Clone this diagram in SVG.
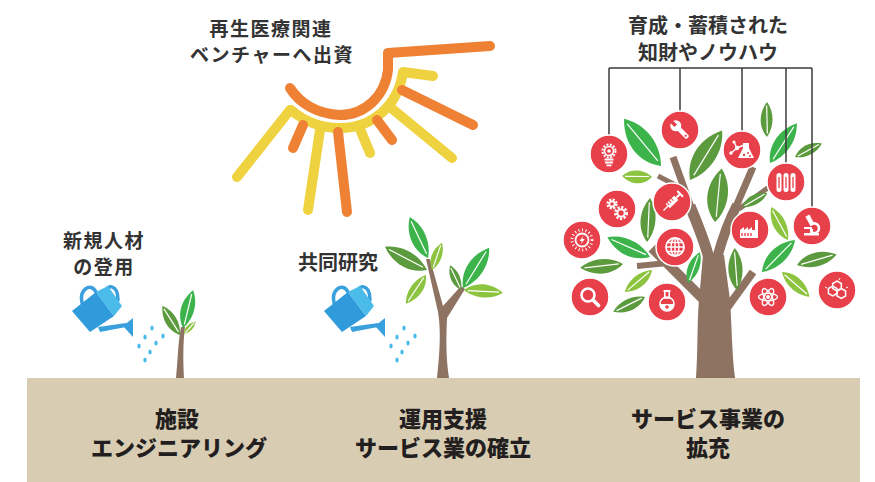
<svg xmlns="http://www.w3.org/2000/svg" xmlns:xlink="http://www.w3.org/1999/xlink" width="875" height="482" viewBox="0 0 875 482">
  <defs>
    <style>
      .lbl { font-family: "Noto Sans CJK JP", "Noto Sans", sans-serif; font-weight: 700; font-size: 20px; fill: #333333; text-anchor: middle; }
      .lbs { font-family: "Noto Sans CJK JP", "Noto Sans", sans-serif; font-weight: 700; font-size: 19px; letter-spacing: 1.5px; fill: #333333; text-anchor: middle; }
      .gnd { font-family: "Noto Sans CJK JP", "Noto Sans", sans-serif; font-weight: 900; font-size: 22px; fill: #231f20; text-anchor: middle; }
      .ray { fill: none; stroke-width: 10; stroke-linecap: round; stroke-linejoin: round; }
      .or { stroke: #ef8134; }
      .ye { stroke: #efd23f; }
      .bark { fill: none; stroke: #8e7363; stroke-linecap: butt; }
      .dot { fill: #e8404a; stroke: #ffffff; stroke-width: 1.5; }
      .ic { fill: #ffffff; }
      .ico { fill: none; stroke: #ffffff; }
      .hang { fill: none; stroke: #3a3a3a; stroke-width: 1.5; }
      .drop { fill: #4bbbea; }
      .dk { fill: #5b9a3d; }
      .br { fill: #3cb44b; }
      .lt { fill: #8cc43f; }
    </style>
    <!-- unit leaf: base at origin, tip at (100,0) -->
    <g id="leaf">
      <path d="M0,0 C25,-22 65,-26 100,0 C70,22 28,20 0,0 Z"/>
      <path d="M10,1 L90,-1" fill="none" stroke="#ffffff" stroke-width="1.2" vector-effect="non-scaling-stroke"/>
    </g>
    <!-- watering can with falling drops -->
    <g id="can">
      <path d="M82,303 C79,289 91,282 96,292" fill="none" stroke="#3aa0dd" stroke-width="3.5" stroke-linecap="round"/>
      <path d="M105,294 C106,283 118,284 118,300" fill="none" stroke="#3aa0dd" stroke-width="3.5" stroke-linecap="round"/>
      <polygon points="98,327 126,323 126,327 100,332" fill="#3aa0dd"/>
      <polygon points="123,326 133,318 133,337" fill="#3aa0dd"/>
      <polygon points="72,311 96,292 114,316 90,332" fill="#2f9bda"/>
      <polygon points="96,292 108,286 122,306 114,316" fill="#4bbbea"/>
      <g class="drop">
        <ellipse cx="152" cy="328" rx="1.7" ry="2.5"/>
        <ellipse cx="163" cy="336" rx="1.7" ry="2.5"/>
        <ellipse cx="145" cy="337" rx="1.7" ry="2.5"/>
        <ellipse cx="156" cy="343" rx="1.7" ry="2.5"/>
        <ellipse cx="139" cy="346" rx="1.7" ry="2.5"/>
        <ellipse cx="150" cy="352" rx="1.7" ry="2.5"/>
        <ellipse cx="145" cy="360" rx="1.7" ry="2.5"/>
      </g>
    </g>
  </defs>

  <rect width="875" height="482" fill="#ffffff"/>

  <!-- ground band -->
  <g id="ground">
    <rect x="27" y="378" width="833" height="104" fill="#d8ccb2"/>
  </g>

  <!-- sun -->
  <g id="sun">
    <path class="ray or" d="M290,88 C300,104 318,114 340,115 C365,115 385,96 388,70 L388,53 L490,46"/>
    <path class="ray ye" d="M291,110 C305,122 322,128 340,128 C372,128 398,106 403,72 L433,76"/>
    <path class="ray ye" d="M290,110 L237,177"/>
    <path class="ray ye" d="M320,130 L308,210"/>
    <path class="ray ye" d="M360,129 L370,153"/>
    <path class="ray ye" d="M390,107 L452,158"/>
    <path class="ray or" d="M303,125 L293,148"/>
    <path class="ray or" d="M338,132 L347,212"/>
    <path class="ray or" d="M377,120 L392,140"/>
    <path class="ray or" d="M402,90 L473,125"/>
  </g>

  <!-- labels -->
  <g id="label-venture">
    <text class="lbs"><tspan x="271" y="36">再生医療関連</tspan><tspan x="272" y="62">ベンチャーへ出資</tspan></text>
  </g>
  <g id="label-hiring">
    <text class="lbs"><tspan x="104" y="248">新規人材</tspan><tspan x="104" y="274">の登用</tspan></text>
  </g>
  <g id="label-research">
    <text class="lbl" x="338" y="270">共同研究</text>
  </g>
  <g id="label-knowhow">
    <text class="lbl"><tspan x="708" y="33">育成・蓄積された</tspan><tspan x="708" y="60">知財やノウハウ</tspan></text>
  </g>

  <!-- watering cans -->
  <g id="can-1"><use xlink:href="#can"/></g>
  <g id="can-2"><use xlink:href="#can" transform="translate(252,0)"/></g>

  <!-- sprout -->
  <g id="sprout">
    <path d="M176,378 C178,358 178,342 181,327 L185,327 C183,342 183,360 184,378 Z" fill="#8e7363"/>
    <use xlink:href="#leaf" class="dk" transform="translate(180,335) rotate(-121) scale(0.34)"/>
    <use xlink:href="#leaf" class="br" transform="translate(183,328) rotate(-75) scale(0.39)"/>
    <use xlink:href="#leaf" class="lt" transform="translate(184,334) rotate(-47) scale(0.17)"/>
  </g>

  <!-- sapling -->
  <g id="sapling">
    <path d="M437,378 C440,350 441,330 438,312 L426,259 L430,259 L443,306 L461,286 L465,289 L447,318 C446,340 446,358 449,378 Z" fill="#8e7363"/>
    <use xlink:href="#leaf" class="dk" transform="translate(427,270) rotate(-151) scale(0.48)"/>
    <use xlink:href="#leaf" class="br" transform="translate(428,258) rotate(-114) scale(0.45)"/>
    <use xlink:href="#leaf" class="lt" transform="translate(432,270) rotate(-70) scale(0.29)"/>
    <use xlink:href="#leaf" class="lt" transform="translate(426,275) rotate(125) scale(0.35)"/>
    <use xlink:href="#leaf" class="dk" transform="translate(461,290) rotate(-114) scale(0.27)"/>
    <use xlink:href="#leaf" class="br" transform="translate(463,288) rotate(-57) scale(0.48)"/>
    <use xlink:href="#leaf" class="lt" transform="translate(464,290) rotate(4) scale(0.39)"/>
  </g>

  <!-- tree -->
  <g id="tree">
    <path d="M696,378 C698,350 697,322 699,300 L703,255 L724,255 L730,300 C732,330 732,355 735,378 Z" fill="#8e7363"/>
    <path class="bark" stroke-width="10" d="M706,302 L652,248"/>
    <path class="bark" stroke-width="6" d="M668,263 L637,266"/>
    <path class="bark" stroke-width="8" d="M727,308 L753,272"/>
    <path class="bark" stroke-width="11" d="M709,258 C704,240 698,225 690,206"/>
    <path class="bark" stroke-width="7" d="M692,210 L673,157"/>
    <path class="bark" stroke-width="5" d="M687,191 L658,176"/>
    <path class="bark" stroke-width="10" d="M717,258 C722,240 728,222 737,205"/>
    <path class="bark" stroke-width="7" d="M735,209 L753,167"/>
    <path class="bark" stroke-width="5" d="M739,209 L780,179"/>

    <g id="tree-leaves">
      <use xlink:href="#leaf" class="br" transform="translate(661,166) rotate(-128) scale(0.6,0.66)"/>
      <use xlink:href="#leaf" class="lt" transform="translate(652,177) rotate(182) scale(0.30,0.38)"/>
      <use xlink:href="#leaf" class="dk" transform="translate(690,180) rotate(-57) scale(0.59,0.62)"/>
      <use xlink:href="#leaf" class="dk" transform="translate(767,137) rotate(-90) scale(0.35)"/>
      <use xlink:href="#leaf" class="br" transform="translate(770,163) rotate(-56) scale(0.48)"/>
      <use xlink:href="#leaf" class="dk" transform="translate(795,157) rotate(-27) scale(0.30)"/>
      <use xlink:href="#leaf" class="dk" transform="translate(715,222) rotate(-83) scale(0.54,0.6)"/>
      <use xlink:href="#leaf" class="dk" transform="translate(742,207) rotate(-29) scale(0.29)"/>
      <use xlink:href="#leaf" class="dk" transform="translate(647,242) rotate(-86) scale(0.44)"/>
      <use xlink:href="#leaf" class="br" transform="translate(650,257) rotate(-155) scale(0.47)"/>
      <use xlink:href="#leaf" class="dk" transform="translate(623,264) rotate(175) scale(0.43)"/>
      <use xlink:href="#leaf" class="lt" transform="translate(652,270) rotate(141) scale(0.35)"/>
      <use xlink:href="#leaf" class="dk" transform="translate(645,297) rotate(155) scale(0.35)"/>
      <use xlink:href="#leaf" class="br" transform="translate(688,283) rotate(-69) scale(0.33)"/>
      <use xlink:href="#leaf" class="dk" transform="translate(737,290) rotate(-93) scale(0.42)"/>
      <use xlink:href="#leaf" class="lt" transform="translate(788,240) rotate(-117) scale(0.37)"/>
      <use xlink:href="#leaf" class="br" transform="translate(762,272) rotate(-44) scale(0.46)"/>
      <use xlink:href="#leaf" class="dk" transform="translate(797,265) rotate(-15) scale(0.41)"/>
      <use xlink:href="#leaf" class="lt" transform="translate(782,272) rotate(42) scale(0.37)"/>
    </g>
  </g>

  <!-- hanging lines from the knowhow label -->
  <g id="connectors">
    <path class="hang" d="M609,68 L812,68"/>
    <path class="hang" d="M609,68 L609,135"/>
    <path class="hang" d="M680,68 L680,111"/>
    <path class="hang" d="M742,68 L742,131"/>
    <path class="hang" d="M786,68 L786,163"/>
    <path class="hang" d="M812,68 L812,207"/>
  </g>

  <!-- icon badges -->
  <g id="icon-bulb" transform="translate(609,154)">
    <circle class="dot" r="19"/>
    <circle class="ico" cy="-3" r="6.5" stroke-width="2" stroke-dasharray="2 1.4"/>
    <circle class="ico" cy="-3" r="4.5" stroke-width="1.6"/>
    <circle class="ic" cy="-3" r="1.8"/>
    <rect class="ic" x="-4.5" y="4.5" width="9" height="2"/>
    <rect class="ic" x="-4" y="7.5" width="8" height="2"/>
    <rect class="ic" x="-2.5" y="10.5" width="5" height="1.8"/>
  </g>
  <g id="icon-wrench" transform="translate(680,130) rotate(-45)">
    <circle class="dot" r="19" transform="rotate(45)"/>
    <rect class="ic" x="-2.3" y="-3" width="4.6" height="14" rx="1.5"/>
    <circle class="ic" cy="-6" r="5.5"/>
    <rect x="-1.8" y="-12.5" width="3.6" height="6.5" fill="#e8404a"/>
    <circle cy="8" r="1.1" fill="#e8404a"/>
  </g>
  <g id="icon-chem" transform="translate(742,150)">
    <circle class="dot" r="19"/>
    <path class="ico" stroke-width="1.4" d="M-11,3 L-5,-2 L-8,-8 M-5,-2 L2,-5"/>
    <circle class="ic" cx="-11" cy="3" r="1.8"/>
    <circle class="ic" cx="-5" cy="-2" r="2.2"/>
    <circle class="ic" cx="-8" cy="-8" r="1.6"/>
    <path class="ic" d="M1,-7 L7,-7 L7,-2 L12,8 L-4,8 L1,-2 Z"/>
    <circle cx="2" cy="5" r="1.2" fill="#e8404a"/>
    <circle cx="6" cy="3" r="1" fill="#e8404a"/>
    <circle cx="8" cy="6" r="1" fill="#e8404a"/>
  </g>
  <g id="icon-tubes" transform="translate(786,182)">
    <circle class="dot" r="19"/>
    <rect class="ic" x="-9.5" y="-9" width="5" height="19" rx="2.5"/>
    <rect class="ic" x="-2.5" y="-9" width="5" height="19" rx="2.5"/>
    <rect class="ic" x="4.5" y="-9" width="5" height="19" rx="2.5"/>
    <path d="M-7,-5 L-7,6 M0,-5 L0,6 M7,-5 L7,6" stroke="#e8404a" stroke-width="1.3"/>
  </g>
  <g id="icon-microscope" transform="translate(812,226)">
    <circle class="dot" r="19"/>
    <rect class="ic" x="-8" y="7" width="15" height="2.5"/>
    <rect class="ic" x="-4" y="-11" width="4.5" height="11" transform="rotate(-28 -2 -5)"/>
    <rect class="ic" x="-8" y="1" width="8" height="2"/>
    <path class="ico" stroke-width="2.5" d="M1,-3 C9,-2 9,7 1,7"/>
    <rect class="ic" x="-2" y="3" width="3" height="4"/>
  </g>
  <g id="icon-syringe" transform="translate(672,202) rotate(45)">
    <circle class="dot" r="19"/>
    <rect class="ic" x="-3" y="-6" width="6" height="12"/>
    <path d="M-3,-2 L0,-2 M-3,1 L0,1 M-3,4 L0,4" stroke="#e8404a" stroke-width="1"/>
    <rect class="ic" x="-1" y="-11" width="2" height="5"/>
    <rect class="ic" x="-4" y="-12.5" width="8" height="2"/>
    <path class="ico" stroke-width="1.2" d="M0,6 L0,12"/>
  </g>
  <g id="icon-gears" transform="translate(617,209)">
    <circle class="dot" r="19"/>
    <circle class="ico" cx="-5" cy="-5" r="4.3" stroke-width="2.6" stroke-dasharray="2 1.4"/>
    <circle class="ico" cx="-5" cy="-5" r="2.6" stroke-width="1.6"/>
    <circle class="ico" cx="4" cy="4" r="5.6" stroke-width="2.8" stroke-dasharray="2.2 1.5"/>
    <circle class="ico" cx="4" cy="4" r="3.6" stroke-width="1.8"/>
  </g>
  <g id="icon-energy" transform="translate(582,240)">
    <circle class="dot" r="19"/>
    <circle class="ico" r="6.5" stroke-width="1.8"/>
    <circle class="ico" r="10" stroke-width="3" stroke-dasharray="1 2.6"/>
    <path class="ic" d="M1.5,-4.5 L-2.5,1 L0,1 L-1.5,4.5 L2.8,-1 L0.2,-1 Z"/>
  </g>
  <g id="icon-globe" transform="translate(675,247)">
    <circle class="dot" r="19"/>
    <circle class="ico" r="9" stroke-width="1.8"/>
    <ellipse class="ico" rx="4" ry="9" stroke-width="1.4"/>
    <path class="ico" stroke-width="1.4" d="M-9,0 L9,0 M-8,-4.5 L8,-4.5 M-8,4.5 L8,4.5 M0,-9 L0,9"/>
  </g>
  <g id="icon-factory" transform="translate(750,230)">
    <circle class="dot" r="19"/>
    <path class="ic" d="M-10,8 L-10,0 L-6,-3 L-6,0 L-2,-3 L-2,0 L2,-3 L2,0 L5,0 L5,-10 L8,-10 L8,8 Z"/>
    <path d="M-8,3 L-8,6 M-5,3 L-5,6 M-2,3 L-2,6 M1,3 L1,6" stroke="#e8404a" stroke-width="1.4"/>
  </g>
  <g id="icon-search" transform="translate(590,297)">
    <circle class="dot" r="19"/>
    <circle class="ico" cx="-2" cy="-2" r="6.5" stroke-width="2.6"/>
    <path class="ico" stroke-width="3.6" stroke-linecap="round" d="M3,3 L8.5,8.5"/>
  </g>
  <g id="icon-flask" transform="translate(667,302)">
    <circle class="dot" r="19"/>
    <rect class="ico" x="-2.2" y="-11" width="4.4" height="7" stroke-width="1.6"/>
    <circle class="ico" cy="2" r="7" stroke-width="1.6"/>
    <path class="ic" d="M-7,2 A7,7 0 0 0 7,2 Z"/>
    <path d="M0,3 L0,7 M-2,5 L2,5" stroke="#e8404a" stroke-width="1.3"/>
    <rect class="ic" x="-3.5" y="-12" width="7" height="1.8"/>
  </g>
  <g id="icon-atom" transform="translate(768,297)">
    <circle class="dot" r="19"/>
    <ellipse class="ico" rx="9.5" ry="3.6" stroke-width="1.4"/>
    <ellipse class="ico" rx="9.5" ry="3.6" stroke-width="1.4" transform="rotate(60)"/>
    <ellipse class="ico" rx="9.5" ry="3.6" stroke-width="1.4" transform="rotate(-60)"/>
    <circle class="ic" r="2"/>
  </g>
  <g id="icon-molecule" transform="translate(837,290)">
    <circle class="dot" r="19"/>
    <path class="ico" stroke-width="1.5" d="M0,-9 L4.3,-6.5 L4.3,-1.5 L0,1 L-4.3,-1.5 L-4.3,-6.5 Z"/>
    <path class="ico" stroke-width="1.5" d="M-4.3,-1.5 L-4.3,3.5 L-8.6,6 L-12.9,3.5 L-12.9,-1.5 L-8.6,-4 Z" transform="translate(4.3,0)"/>
    <path class="ico" stroke-width="1.5" d="M4.3,-1.5 L8.6,1 L8.6,6 L4.3,8.5 L0,6 L0,1 Z"/>
    <path class="ico" stroke-width="1" d="M-12,-3 L-10,-2 M11,-3 L9,-2 M3,-12 L2,-10"/>
  </g>

  <!-- ground captions -->
  <g id="caption-engineering">
    <text class="gnd"><tspan x="177" y="427">施設</tspan><tspan x="179" y="456">エンジニアリング</tspan></text>
  </g>
  <g id="caption-operations">
    <text class="gnd"><tspan x="443" y="427">運用支援</tspan><tspan x="443" y="456">サービス業の確立</tspan></text>
  </g>
  <g id="caption-expansion">
    <text class="gnd"><tspan x="708" y="427">サービス事業の</tspan><tspan x="708" y="456">拡充</tspan></text>
  </g>
</svg>
